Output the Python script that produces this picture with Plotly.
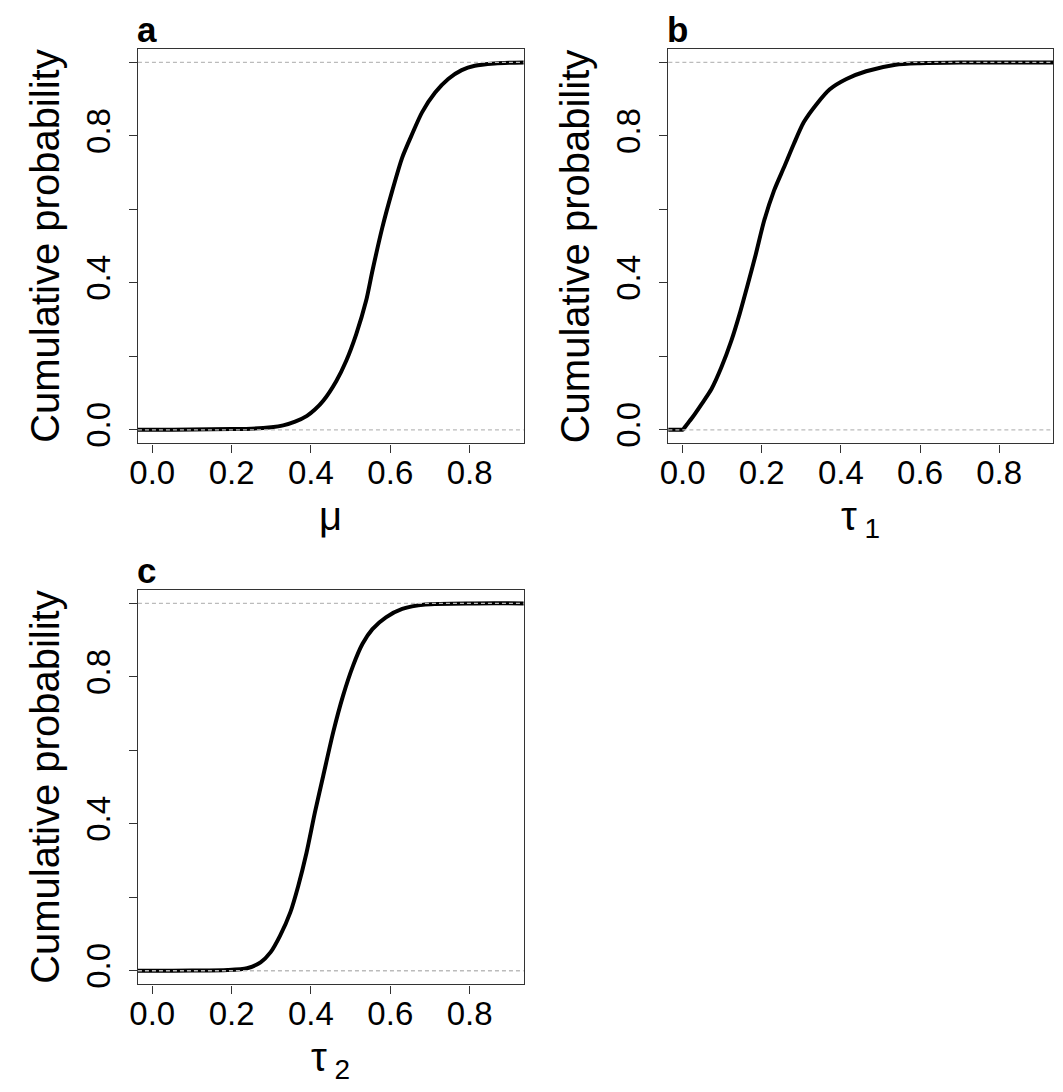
import plotly.graph_objects as go

# page body keeps an 8px margin, so the figure is drawn 16px smaller and shifted
PAD = 8
W, H = 1063 - 2 * PAD, 1092 - 2 * PAD

# ---- data ----
mu_x = [-0.05, 0.0, 0.1, 0.2, 0.25, 0.30, 0.33, 0.36, 0.39, 0.41, 0.431, 0.464, 0.489,
        0.514, 0.539, 0.555, 0.580, 0.605, 0.630, 0.655, 0.680, 0.713, 0.746, 0.780,
        0.813, 0.863, 0.90, 0.95]
mu_y = [0.0, 0.0, 0.0005, 0.002, 0.003, 0.007, 0.012, 0.022, 0.038, 0.055, 0.079, 0.133,
        0.188, 0.26, 0.351, 0.433, 0.551, 0.651, 0.741, 0.805, 0.864, 0.918, 0.955,
        0.979, 0.991, 0.997, 0.999, 1.0]

tau1_x = [-0.05, -0.002, 0.0, 0.012, 0.025, 0.048, 0.073, 0.098, 0.123, 0.144, 0.165,
          0.185, 0.206, 0.231, 0.256, 0.281, 0.306, 0.339, 0.372, 0.414, 0.464, 0.538,
          0.60, 0.70, 0.95]
tau1_y = [0.0, 0.0, 0.0, 0.016, 0.034, 0.07, 0.111, 0.17, 0.242, 0.315, 0.397, 0.478,
          0.569, 0.651, 0.714, 0.778, 0.837, 0.887, 0.927, 0.955, 0.976, 0.994, 0.998,
          1.0, 1.0]

tau2_x = [-0.05, 0.0, 0.1, 0.19, 0.239, 0.273, 0.298, 0.322, 0.348, 0.368, 0.389, 0.41,
          0.431, 0.456, 0.481, 0.506, 0.53, 0.555, 0.589, 0.63, 0.688, 0.813, 0.95]
tau2_y = [0.0, 0.0, 0.0005, 0.002, 0.007, 0.023, 0.05, 0.095, 0.159, 0.231, 0.322, 0.431,
          0.531, 0.649, 0.749, 0.83, 0.89, 0.93, 0.962, 0.985, 0.997, 1.0, 1.0]

letters = ["a", "b", "c"]
xtitles = ["μ", "τ<sub> 1</sub>", "τ<sub> 2</sub>"]
ytitle = "Cumulative probability"
xticks = [0.0, 0.2, 0.4, 0.6, 0.8]
yticks = [0.0, 0.4, 0.8]
yminor = [0.2, 0.6, 1.0]

FONT = "Liberation Sans, Arial, sans-serif"

# plot boxes in page pixels: left, right, top, bottom
boxes = [(130, 519, 49, 445), (665, 1053, 49, 445), (130, 519, 592, 988)]
series = [(mu_x, mu_y), (tau1_x, tau1_y), (tau2_x, tau2_y)]


def px(x):
    return (x - PAD) / W


def py(y):
    return 1 - (y - PAD) / H


fig = go.Figure()
annotations = []
shapes = []

for i, ((l, r, t, b), (xs, ys)) in enumerate(zip(boxes, series)):
    n = "" if i == 0 else str(i + 1)
    xa, ya = "x" + n, "y" + n
    fig.add_trace(go.Scatter(x=xs, y=ys, mode="lines", xaxis=xa, yaxis=ya,
                             line=dict(color="black", width=4, shape="spline", smoothing=0.7),
                             showlegend=False, hoverinfo="skip"))
    fig.layout["xaxis" + n] = dict(
        domain=[px(l), px(r)], anchor=ya, range=[-0.036, 0.936],
        tickvals=xticks, tickformat=".1f", ticks="outside", ticklen=8,
        tickwidth=1.2, tickcolor="#333", showline=True, mirror=True,
        linecolor="#333", linewidth=1.3, showgrid=False, zeroline=False,
        ticklabelstandoff=-8,
        tickfont=dict(family=FONT, size=33, color="black"))
    fig.layout["yaxis" + n] = dict(
        domain=[py(b), py(t)], anchor=xa, range=[-0.037, 1.037],
        tickvals=yticks, tickformat=".1f", tickangle=-90, ticks="outside",
        ticklen=8, tickwidth=1.2, tickcolor="#333", showline=True, mirror=True,
        linecolor="#333", linewidth=1.3, showgrid=False, zeroline=False,
        ticklabelstandoff=6,
        minor=dict(tickmode="array", tickvals=yminor, ticks="outside", ticklen=8,
                   tickwidth=1.2, tickcolor="#333", showgrid=False),
        tickfont=dict(family=FONT, size=33, color="black"))
    # dashed reference lines at 0 and 1
    for yv in (0, 1):
        shapes.append(dict(type="line", xref=xa + " domain", yref=ya,
                           x0=0, x1=1, y0=yv, y1=yv,
                           line=dict(color="#bbbbbb", width=1.3, dash="4px,3px")))
    # panel letter
    annotations.append(dict(text="<b>%s</b>" % letters[i], xref="paper", yref="paper",
                            x=px(l - 3), y=py(t - 19), xanchor="left",
                            yanchor="middle", showarrow=False,
                            font=dict(family=FONT, size=35, color="black")))
    # y title
    annotations.append(dict(text=ytitle, xref="paper", yref="paper",
                            x=px(l - 94), y=py((t + b) / 2), textangle=-90,
                            xanchor="center", yanchor="middle", showarrow=False,
                            font=dict(family=FONT, size=40, color="black")))
    # x title
    annotations.append(dict(text=xtitles[i], xref="paper", yref="paper",
                            x=px((l + r) / 2), y=py(b + 49),
                            xanchor="center", yanchor="top", showarrow=False,
                            font=dict(family=FONT, size=40, color="black")))

fig.update_layout(width=W, height=H, autosize=False,
                  margin=dict(l=0, r=0, t=0, b=0),
                  paper_bgcolor="white", plot_bgcolor="white",
                  annotations=annotations, shapes=shapes)

fig.write_html("out.html")
